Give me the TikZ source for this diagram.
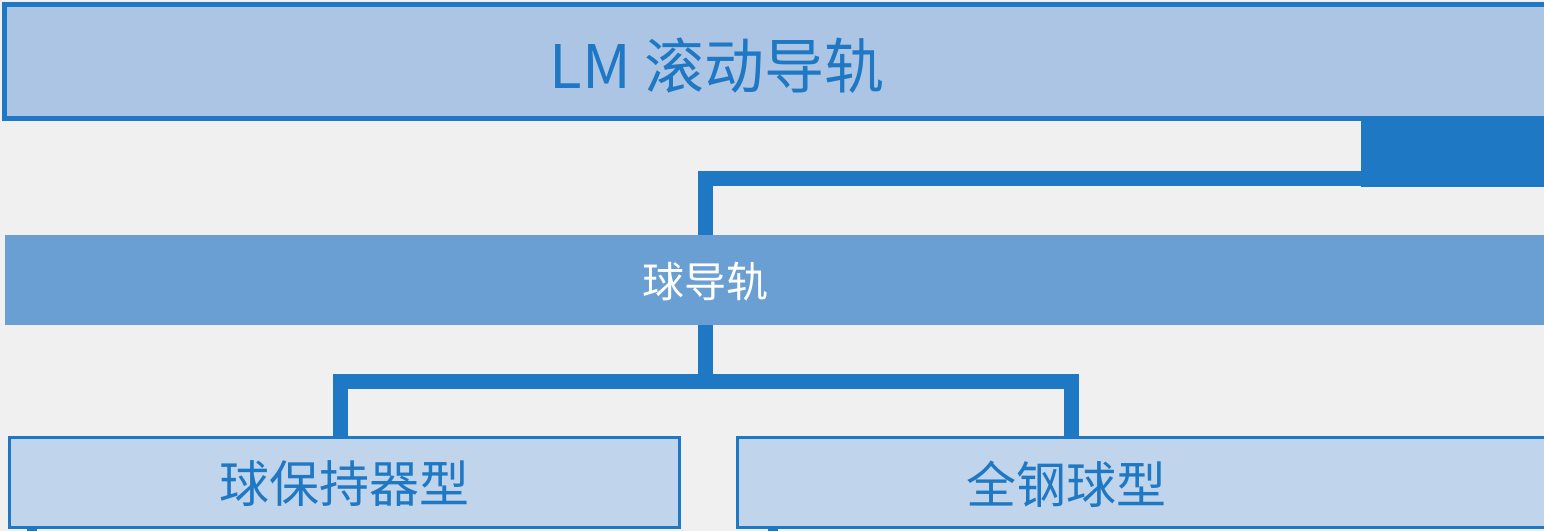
\documentclass[tikz,border=0pt]{standalone}
\usepackage{fontspec}
\setmainfont{Noto Sans CJK SC}
\definecolor{bg}{HTML}{F0F0F0}
\definecolor{dk}{HTML}{1F78C4}
\definecolor{lt}{HTML}{ADC5E4}
\definecolor{md}{HTML}{6A9FD4}
\definecolor{pl}{HTML}{C0D4EB}
\begin{document}
\begin{tikzpicture}[x=1pt,y=-1pt,
  conn/.style={draw=dk,line width=15pt},
  lbox/.style={draw=dk,line width=3pt,fill=pl}]
\useasboundingbox (0,0) rectangle (1544,531);
\fill[bg] (0,0) rectangle (1544,531);
% connectors
\fill[dk] (1361,118) rectangle (1544,187);
\coordinate (c1) at (1544,178);
\draw[conn] (c1) -- (705,178) -- (705,240);
\draw[conn] (705,320) -- (705,381) -- (340,381) -- (340,440);
\draw[conn] (705,381) -- (1071,381) -- (1071,440);
\draw[dk,line width=10pt] (32,525) -- (32,531);
\draw[dk,line width=10pt] (773,525) -- (773,531);
% boxes
\draw[draw=dk,line width=5pt,fill=lt] (4.5,4.5) rectangle (1550,118);
\node[text=dk,font=\fontsize{60}{60}\selectfont] (top) at (717,66) {LM 滚动导轨};
\fill[md] (5,235) rectangle (1544,325);
\node[text=white,font=\fontsize{42}{42}\selectfont] (mid) at (705,282) {球导轨};
\draw[lbox] (9,437) rectangle (679,527);
\node[text=dk,font=\fontsize{50}{50}\selectfont] (l) at (344,484) {球保持器型};
\draw[lbox] (737,437) rectangle (1550,527);
\node[text=dk,font=\fontsize{50}{50}\selectfont] (r) at (1066,484) {全钢球型};
\end{tikzpicture}
\end{document}
